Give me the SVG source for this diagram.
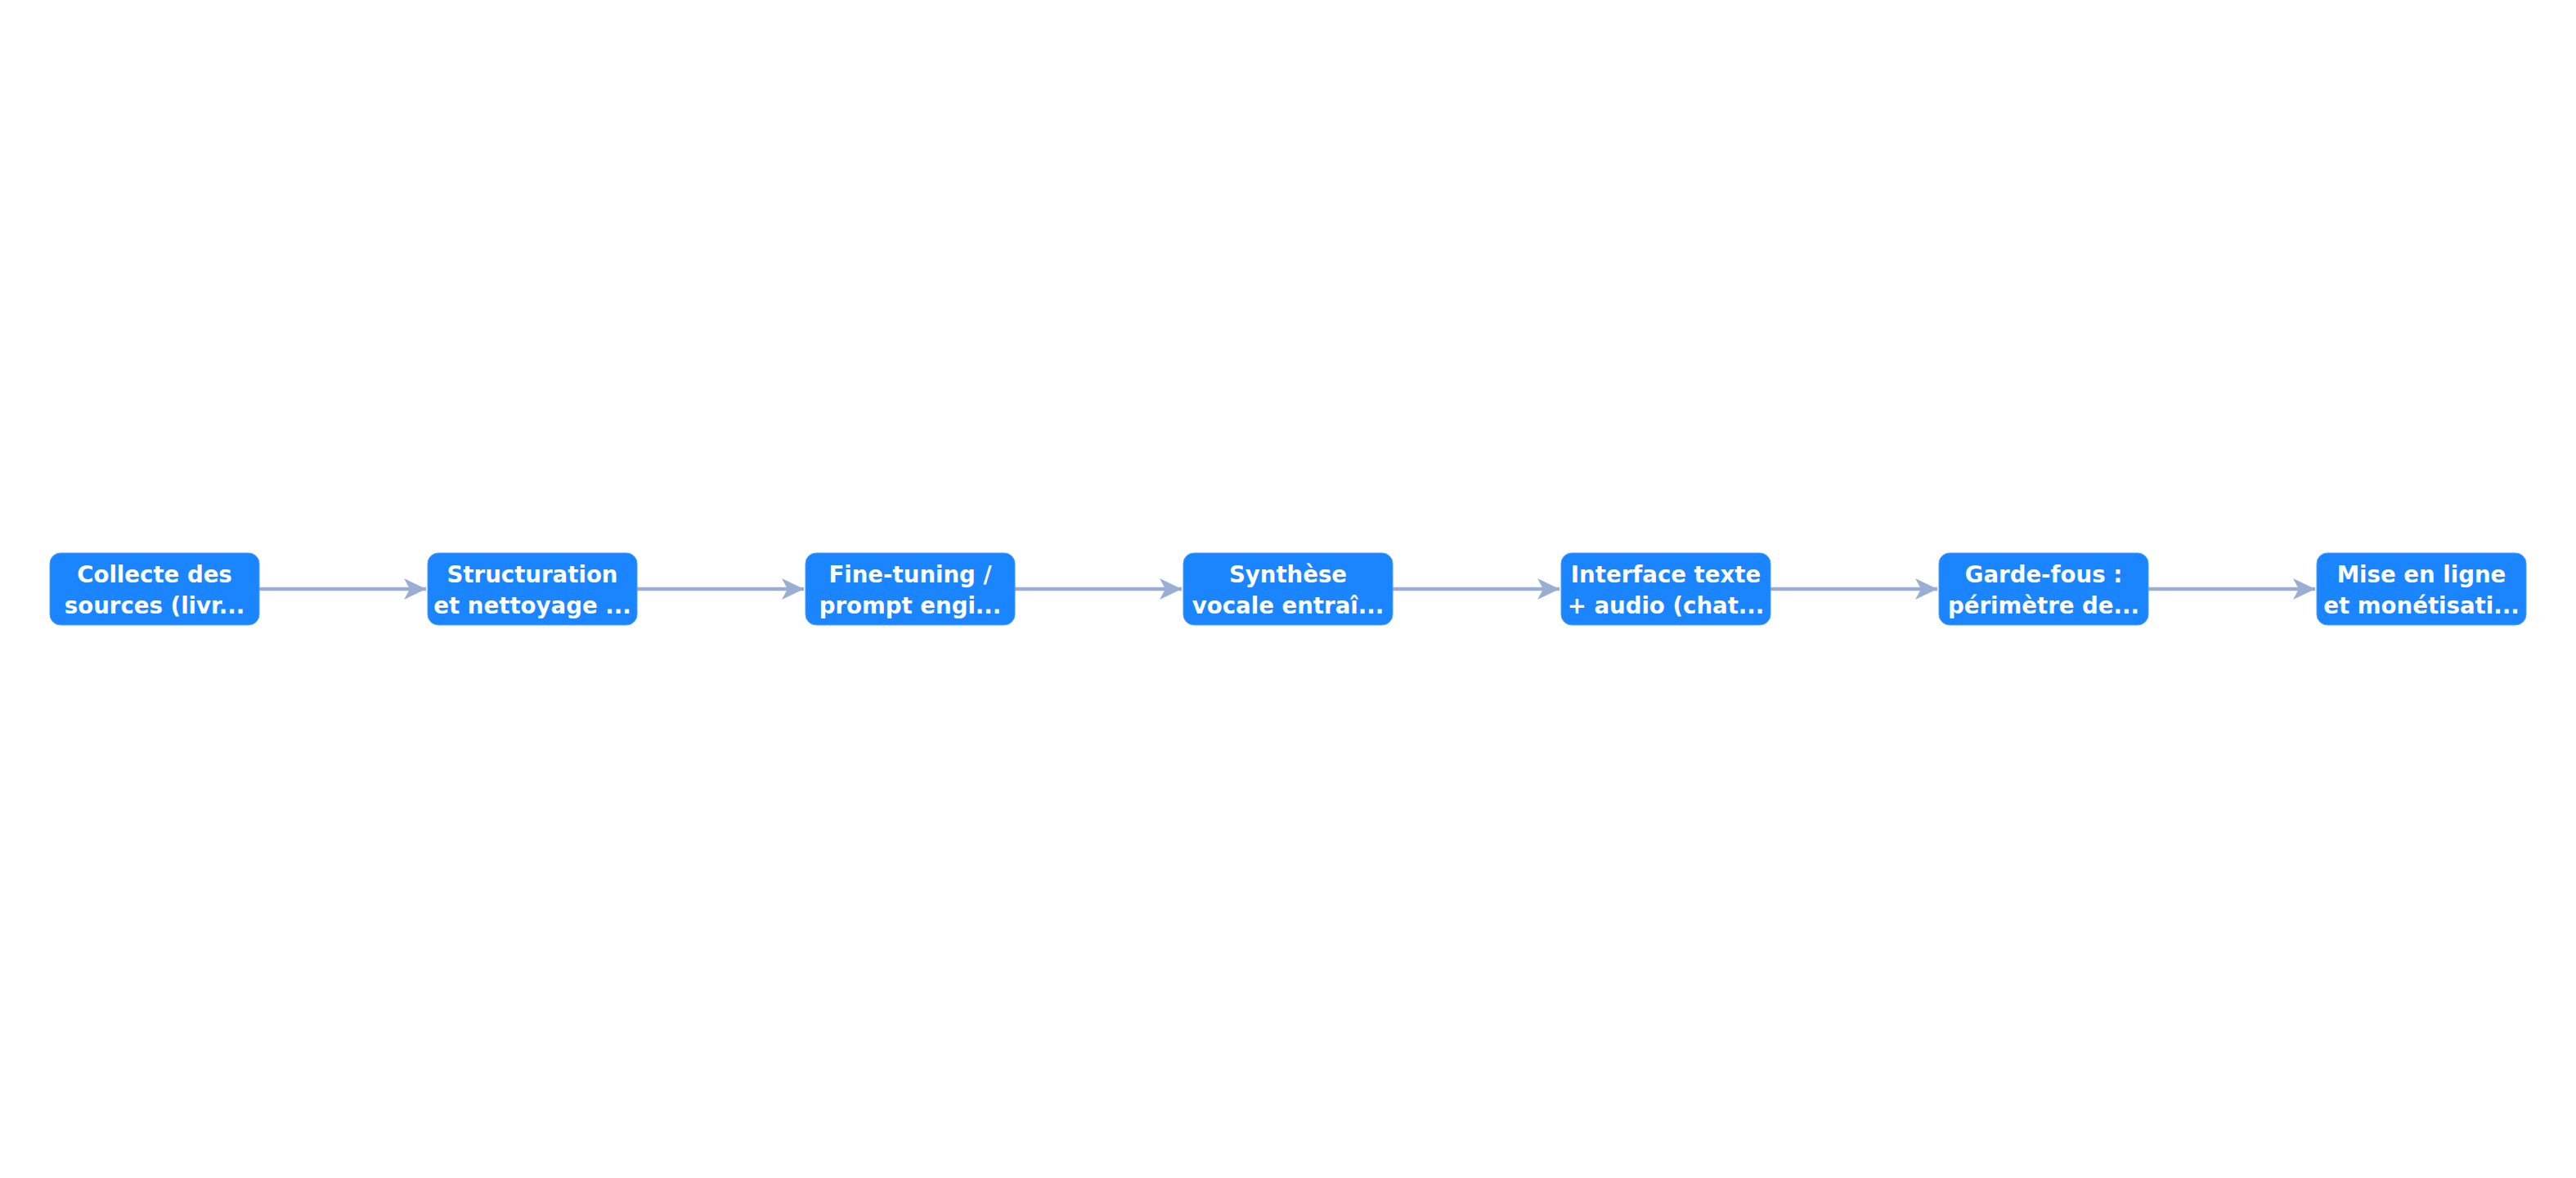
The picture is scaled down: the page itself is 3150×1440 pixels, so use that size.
<svg xmlns="http://www.w3.org/2000/svg" width="3150" height="1440" viewBox="0 0 3150 1440">
<style>
.node rect{fill:#1a85ff;stroke:#4a9dff;stroke-width:1}
.node text{font-family:"DejaVu Sans",sans-serif;font-weight:bold;font-size:27.6px;fill:#ffffff;text-anchor:middle}
.edge{stroke:#9aaed3;stroke-width:4.5;fill:none}
</style>
<defs>
<marker id="arr" markerUnits="userSpaceOnUse" markerWidth="30" markerHeight="28" refX="27" refY="13" orient="auto">
<path d="M0,0 L27,13 L0,26 L7,13 Z" fill="#9aaed3"/>
</marker>
</defs>
<rect width="3150" height="1440" fill="#ffffff"/>
<g id="connectors">
<line class="edge" x1="317" y1="720" x2="521" y2="720" marker-end="url(#arr)"/>
<line class="edge" x1="779" y1="720" x2="983" y2="720" marker-end="url(#arr)"/>
<line class="edge" x1="1241" y1="720" x2="1445" y2="720" marker-end="url(#arr)"/>
<line class="edge" x1="1703" y1="720" x2="1907" y2="720" marker-end="url(#arr)"/>
<line class="edge" x1="2165" y1="720" x2="2369" y2="720" marker-end="url(#arr)"/>
<line class="edge" x1="2627" y1="720" x2="2831" y2="720" marker-end="url(#arr)"/>
</g>
<g id="n1" class="node"><rect x="61" y="676" width="256" height="88" rx="13"/><text x="189" y="711.5">Collecte des</text><text x="189" y="749.5">sources (livr...</text></g>
<g id="n2" class="node"><rect x="523" y="676" width="256" height="88" rx="13"/><text x="651" y="711.5">Structuration</text><text x="651" y="749.5">et nettoyage ...</text></g>
<g id="n3" class="node"><rect x="985" y="676" width="256" height="88" rx="13"/><text x="1113" y="711.5">Fine-tuning /</text><text x="1113" y="749.5">prompt engi...</text></g>
<g id="n4" class="node"><rect x="1447" y="676" width="256" height="88" rx="13"/><text x="1575" y="711.5">Synthèse</text><text x="1575" y="749.5">vocale entraî...</text></g>
<g id="n5" class="node"><rect x="1909" y="676" width="256" height="88" rx="13"/><text x="2037" y="711.5">Interface texte</text><text x="2037" y="749.5">+ audio (chat...</text></g>
<g id="n6" class="node"><rect x="2371" y="676" width="256" height="88" rx="13"/><text x="2499" y="711.5">Garde-fous :</text><text x="2499" y="749.5">périmètre de...</text></g>
<g id="n7" class="node"><rect x="2833" y="676" width="256" height="88" rx="13"/><text x="2961" y="711.5">Mise en ligne</text><text x="2961" y="749.5">et monétisati...</text></g>
</svg>
